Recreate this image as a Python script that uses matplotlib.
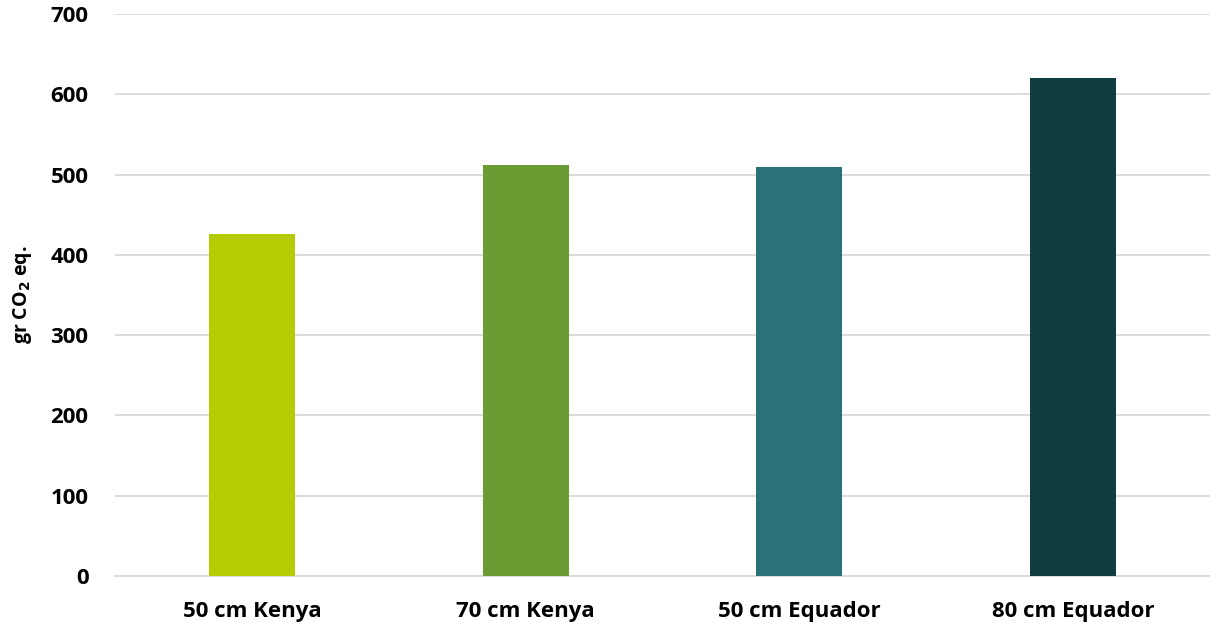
import matplotlib
matplotlib.use("Agg")
import matplotlib.pyplot as plt

categories = ["50 cm Kenya", "70 cm Kenya", "50 cm Equador", "80 cm Equador"]
values = [426, 512, 509, 620]
colors = ["#B5CC05", "#6C9A33", "#2A7278", "#113C40"]

plt.rcParams['font.family'] = ['Open Sans', 'DejaVu Sans']
plt.rcParams['font.weight'] = 'bold'

fig = plt.figure(figsize=(12.1, 6.23), dpi=100)
ax = fig.add_axes([0.095, 0.0754, 0.905, 0.9021])

x = range(len(categories))
ax.bar(x, values, width=0.314, color=colors, zorder=3)

ax.set_xlim(-0.5, 3.5)
ax.set_ylim(0, 700)
ax.set_yticks(range(0, 701, 100))
ax.set_xticks(list(x))
ax.set_xticklabels(categories, fontsize=16, fontweight='bold')
for lab in ax.get_yticklabels():
    lab.set_fontsize(16)
    lab.set_fontweight('bold')

ax.grid(axis='y', color='#d9d9d9', linewidth=1.3, zorder=0)
for s in ['top', 'right', 'left']:
    ax.spines[s].set_visible(False)
ax.spines['bottom'].set_color('#d9d9d9')
ax.spines['bottom'].set_linewidth(1.3)
ax.tick_params(axis='both', length=0)
ax.tick_params(axis='y', pad=19)
ax.tick_params(axis='x', pad=18)

ax.set_ylabel(r'gr CO$_\mathbf{2}$ eq.', fontsize=14, fontweight='bold', labelpad=12)

fig.savefig("out.png", dpi=100)
